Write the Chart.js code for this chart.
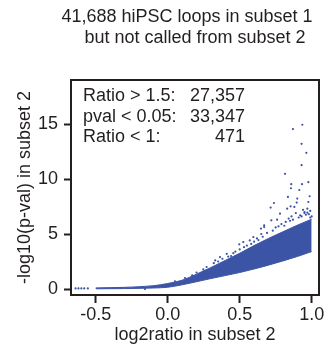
<!DOCTYPE html>
<html>
<head>
<meta charset="utf-8">
<script src="https://cdn.jsdelivr.net/npm/chart.js@4"></script>
<style>
  html, body { margin: 0; padding: 0; background: #fff; }
  #wrap { width: 329px; height: 352px; }
</style>
</head>
<body>
<div id="wrap"><canvas id="myChart"></canvas></div>
<script>
const titleLines = ['41,688 hiPSC loops in subset 1', 'but not called from subset 2'];
const statLabels = ['Ratio > 1.5:', 'pval < 0.05:', 'Ratio < 1:'];
const statValues = ['27,357', '33,347', '471'];

const xTicks = [-0.5, 0, 0.5, 1.0];
const yTicks = [0, 5, 10, 15];

// dense part of the cloud: lower and upper edge
const bandX    = [-0.5, -0.3, -0.1, 0.0, 0.1, 0.2, 0.3, 0.4, 0.5, 0.6, 0.7, 0.8, 0.9, 1.0];
const bandLow  = [0.02, 0.04, 0.09, 0.16, 0.38, 0.66, 0.95, 1.22, 1.5, 1.82, 2.17, 2.55, 2.95, 3.4];
const bandHigh = [0.1, 0.15, 0.3, 0.5, 0.8, 1.35, 1.95, 2.6, 3.25, 3.95, 4.6, 5.2, 5.8, 6.35];

// loose points outside the dense part
const ptX = [0.935, 0.87, 0.93, 0.963, 0.93, 0.815, 0.858, 0.856, 0.933, 0.977, 0.914, 0.835, 0.90, 0.986,
  0.977, 0.738, 0.896, 0.854, 0.88, 0.715, 0.78, 0.67, 0.648, 0.497, 0.32, 0.456, 0.17, 0.595, 0.67,
  0.247, 0.57, 0.83, 0.97, 0.62, 0.41, 0.363, 0.525, 0.72, 0.92, 0.33,
  0.75, 0.82, 0.86, 0.95, 0.99, 0.6, 0.5, 0.44, 0.27, 0.12, 0.05, 0.2, 0.65, 0.76, 0.98, 0.94, 0.89, 0.84,
  0.35, 0.38, 0.42, 0.47, 0.53, 0.55, 0.58, 0.63, 0.66, 0.69, 0.73, 0.77, 0.79, 0.81, 0.85, 0.87,
  0.91, 0.93, 0.96, 0.97, 1.0, 0.99, 0.95,
  -0.64, -0.62, -0.6, -0.58, -0.555, -0.158];
const ptY = [14.93, 14.54, 13.2, 12.38, 11.26, 10.47, 9.53, 9.16, 9.53, 9.71, 9.0, 8.37, 8.22, 8.43,
  7.91, 7.82, 7.86, 7.52, 7.46, 7.4, 6.85, 5.63, 5.49, 4.06, 2.35, 3.26, 1.23, 4.72, 5.79,
  1.78, 4.42, 7.3, 7.3, 4.6, 3.2, 2.9, 4.27, 6.24, 6.7, 2.6,
  5.6, 6.1, 6.6, 6.9, 7.1, 4.3, 3.6, 3.0, 2.0, 1.0, 0.7, 1.5, 5.0, 6.3, 6.8, 7.2, 6.9, 6.4,
  2.5, 2.75, 2.95, 3.4, 3.8, 3.95, 4.1, 4.45, 4.75, 5.1, 5.3, 5.7, 5.9, 5.75, 6.2, 6.3,
  6.5, 6.6, 6.75, 6.95, 6.6, 6.5, 7.0,
  0.05, 0.05, 0.05, 0.05, 0.05, 0.0];

const blue = '#3b54a5';
const ink = '#231f20';
const fontFam = '"Liberation Sans", Arial, sans-serif';
const f18 = { family: fontFam, size: 18 };

const frameAndText = {
  id: 'frameAndText',
  afterDatasetsDraw(chart) {
    const { ctx, chartArea: a } = chart;
    ctx.save();
    ctx.strokeStyle = ink;
    ctx.lineWidth = 2;
    ctx.strokeRect(a.left, a.top, a.right - a.left, a.bottom - a.top);
    ctx.restore();
  },
  afterDraw(chart) {
    const { ctx, chartArea: a } = chart;
    ctx.save();
    ctx.fillStyle = ink;
    ctx.font = '18px ' + fontFam;
    ctx.textBaseline = 'alphabetic';
    ctx.textAlign = 'center';
    ctx.fillText(titleLines[0], 187, 22);
    ctx.fillText(titleLines[1], 195, 43);
    statLabels.forEach((t, i) => {
      const y = a.top + 21 + i * 20.5;
      ctx.textAlign = 'left';
      ctx.fillText(t, a.left + 12, y);
      ctx.textAlign = 'right';
      ctx.fillText(statValues[i], a.left + 174, y);
    });
    ctx.restore();
  }
};

const ctx = document.getElementById('myChart').getContext('2d');
new Chart(ctx, {
  type: 'scatter',
  data: {
    datasets: [{
      data: bandX.map((x, i) => ({ x: x, y: bandLow[i] })),
      showLine: true,
      borderColor: blue,
      borderWidth: 1,
      pointRadius: 0,
      cubicInterpolationMode: 'monotone',
      fill: false
    }, {
      data: bandX.map((x, i) => ({ x: x, y: bandHigh[i] })),
      showLine: true,
      borderColor: blue,
      backgroundColor: blue,
      borderWidth: 1,
      pointRadius: 0,
      cubicInterpolationMode: 'monotone',
      fill: '-1'
    }, {
      data: ptX.map((x, i) => ({ x: x, y: ptY[i] })),
      backgroundColor: blue,
      borderWidth: 0,
      pointRadius: 1.1
    }]
  },
  options: {
    responsive: true,
    maintainAspectRatio: false,
    animation: false,
    devicePixelRatio: 1,
    layout: { padding: { top: 80, right: 10, bottom: 0, left: 0 } },
    plugins: {
      legend: { display: false },
      tooltip: { enabled: false }
    },
    scales: {
      x: {
        type: 'linear',
        min: -0.672,
        max: 1.051,
        afterBuildTicks: s => { s.ticks = xTicks.map(v => ({ value: v })); },
        afterFit: s => { s.height = 57; },
        ticks: { callback: v => Number(v).toFixed(1), font: f18, color: ink, padding: 1, maxRotation: 0, autoSkip: false },
        grid: { drawOnChartArea: false, drawTicks: true, tickLength: 8, tickWidth: 2, tickColor: ink },
        border: { display: true, width: 2, color: ink },
        title: { display: true, text: 'log2ratio in subset 2', font: f18, color: ink, padding: { top: 0, bottom: 6 } }
      },
      y: {
        type: 'linear',
        min: -0.545,
        max: 19.0,
        afterBuildTicks: s => { s.ticks = yTicks.map(v => ({ value: v })); },
        afterFit: s => { s.width = 71; },
        ticks: { font: f18, color: ink, padding: 6, autoSkip: false },
        grid: { drawOnChartArea: false, drawTicks: true, tickLength: 7, tickWidth: 2, tickColor: ink },
        border: { display: true, width: 2, color: ink },
        title: { display: true, text: '-log10(p-val) in subset 2', font: f18, color: ink, padding: { top: 14, bottom: 0 } }
      }
    }
  },
  plugins: [frameAndText]
});
</script>
</body>
</html>
